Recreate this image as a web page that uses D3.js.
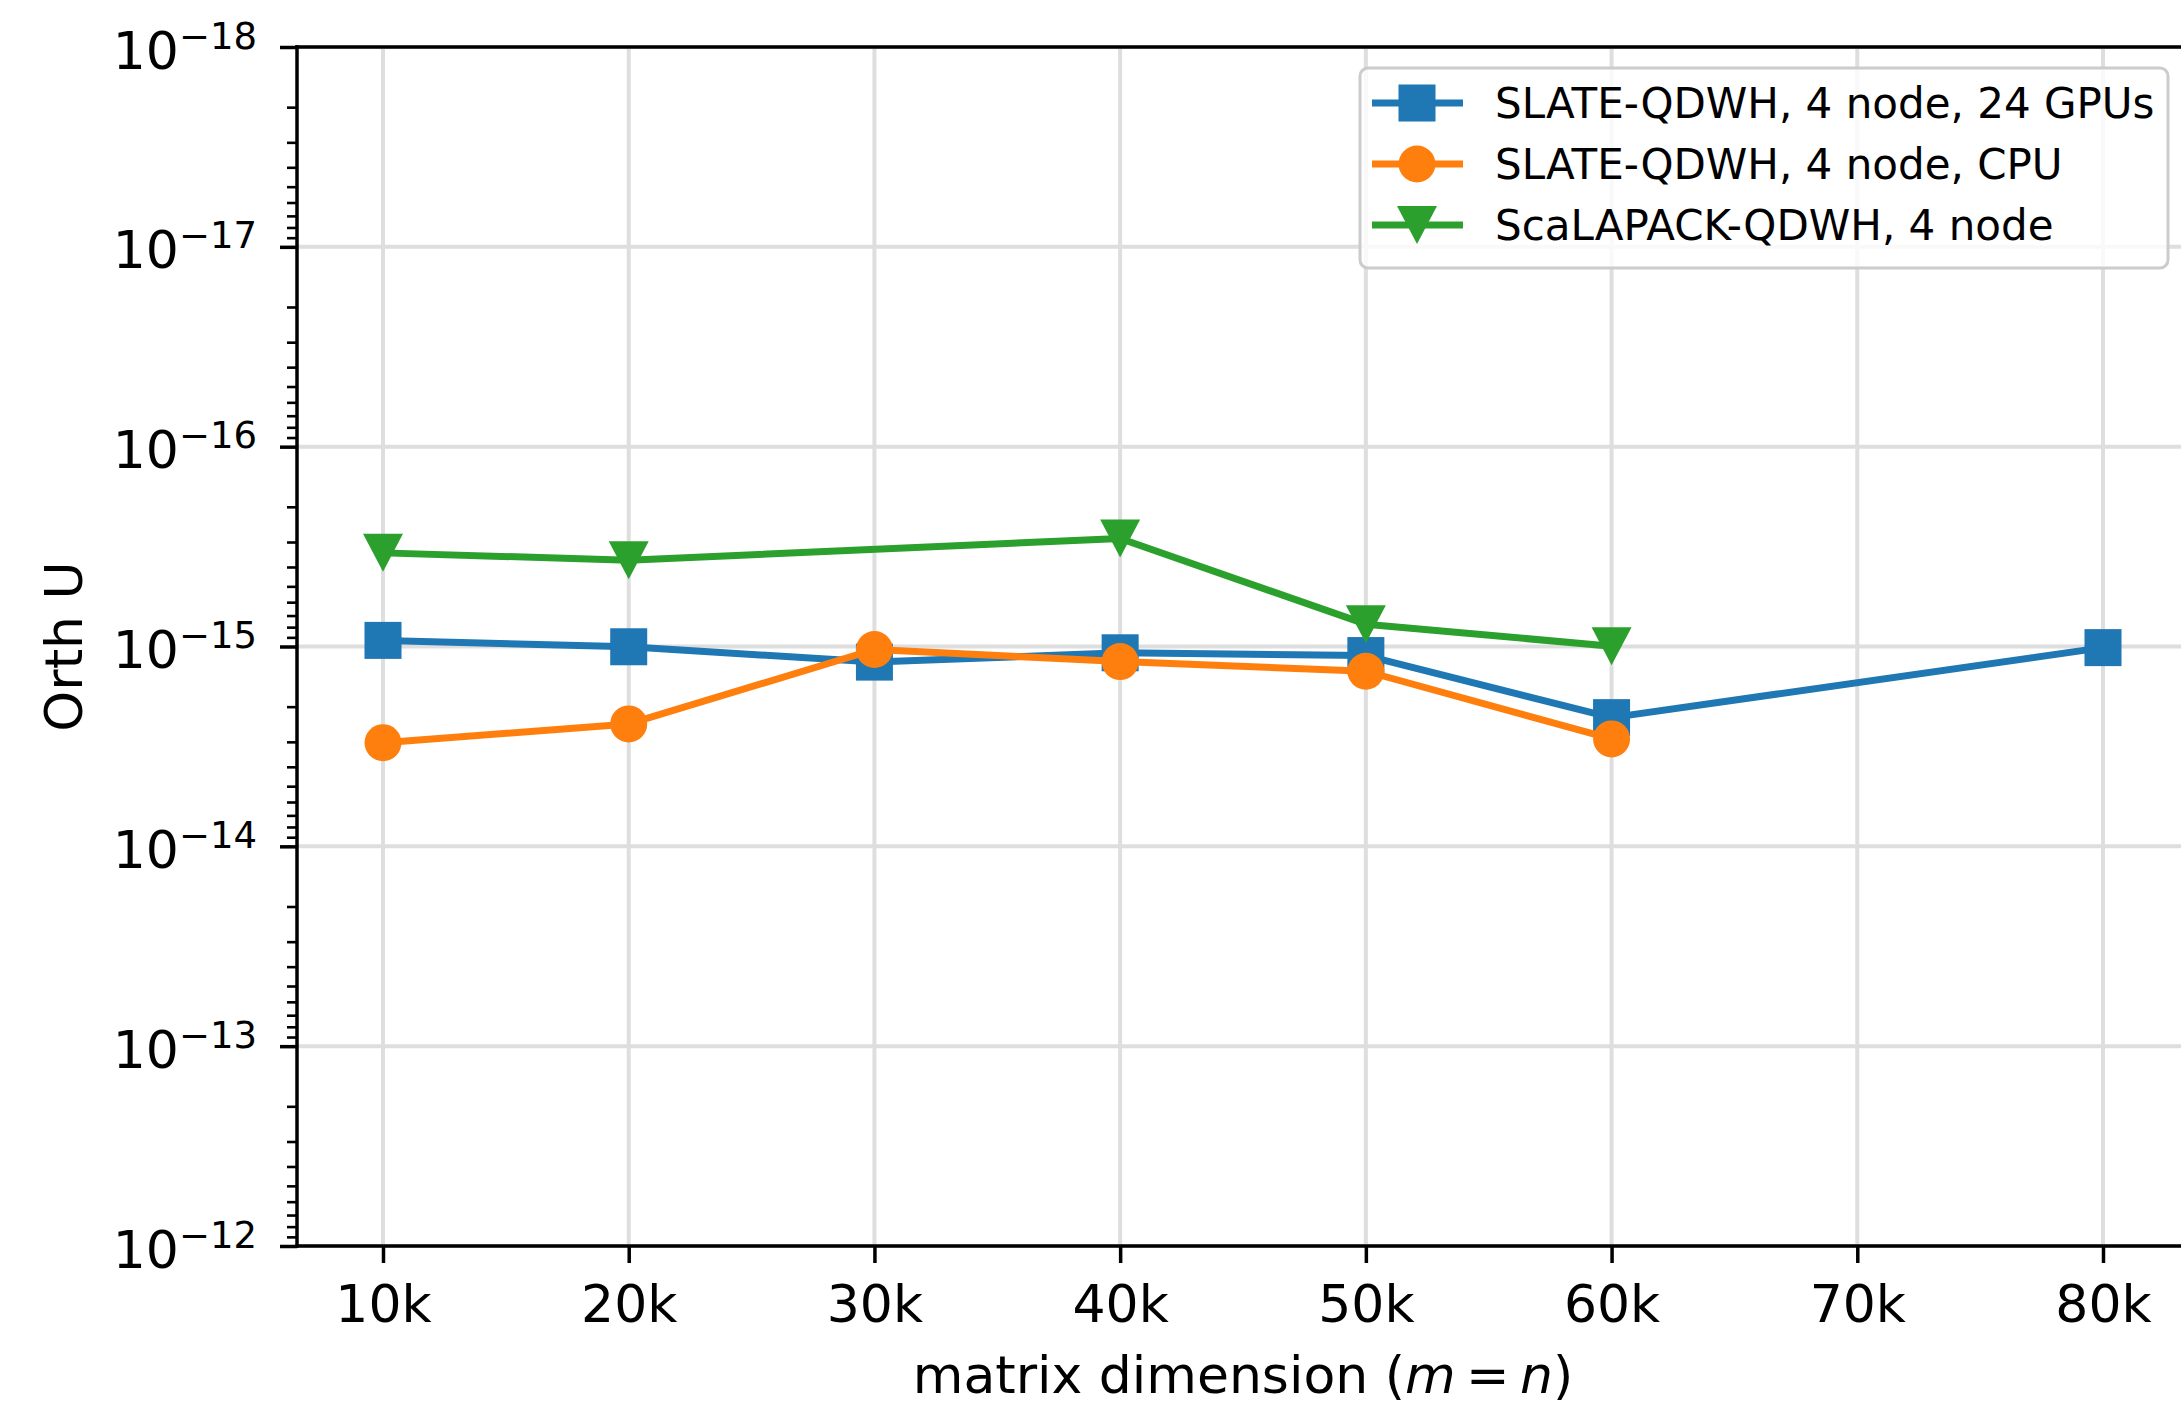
<!DOCTYPE html>
<html>
<head>
<meta charset="utf-8">
<script src="https://cdn.jsdelivr.net/npm/d3@7"></script>
<style>
html,body{margin:0;padding:0;background:#fff;}
svg{display:block;}
text{font-family:"DejaVu Sans",sans-serif;fill:#000;}
</style>
</head>
<body>
<svg id="chart" width="2181" height="1404"></svg>
<script>
// ---- data ----
const tickValues = [10000, 20000, 30000, 40000, 50000, 60000, 70000, 80000];
const tickLabels = ["10k", "20k", "30k", "40k", "50k", "60k", "70k", "80k"];
const seriesNames = ["SLATE-QDWH, 4 node, 24 GPUs", "SLATE-QDWH, 4 node, CPU", "ScaLAPACK-QDWH, 4 node"];
const seriesColors = ["#1f77b4", "#ff7f0e", "#2ca02c"];
const seriesMarkers = ["square", "circle", "triangleDown"];
const gpuX = [10000, 20000, 30000, 40000, 50000, 60000, 80000];
const gpuY = [9.32e-16, 1.003e-15, 1.197e-15, 1.075e-15, 1.11e-15, 2.27e-15, 1.013e-15];
const cpuX = [10000, 20000, 30000, 40000, 50000, 60000];
const cpuY = [3.03e-15, 2.44e-15, 1.035e-15, 1.19e-15, 1.33e-15, 2.90e-15];
const scaX = [10000, 20000, 40000, 50000, 60000];
const scaY = [3.40e-16, 3.70e-16, 2.88e-16, 7.73e-16, 9.97e-16];
const yMajorExp = [-18, -17, -16, -15, -14, -13, -12];

const series = [
  {x: gpuX, y: gpuY}, {x: cpuX, y: cpuY}, {x: scaX, y: scaY}
].map((s, i) => ({name: seriesNames[i], color: seriesColors[i], marker: seriesMarkers[i],
  pts: s.x.map((v, j) => ({x: v, y: s.y[j]}))}));

// ---- layout ----
const L = 297, R = 2189, T = 47, B = 1246;
const svg = d3.select("#chart");
const x = d3.scaleLinear().domain([6500, 83500]).range([L, R]);
const y = d3.scaleLog().domain([1e-18, 1e-12]).range([T, B]);

const majorVals = yMajorExp.map(e => Math.pow(10, e));
const minorVals = [];
for (let e = -18; e < -12; e++) for (let k = 2; k <= 9; k++) minorVals.push(k * Math.pow(10, e));

const gridColor = "#dedede";
// grid
const grid = svg.append("g");
grid.selectAll("line.v").data(tickValues).join("line")
  .attr("x1", d => x(d)).attr("x2", d => x(d)).attr("y1", T).attr("y2", B)
  .attr("stroke", gridColor).attr("stroke-width", 4);
grid.selectAll("line.h").data(majorVals).join("line")
  .attr("x1", L).attr("x2", R).attr("y1", d => y(d)).attr("y2", d => y(d))
  .attr("stroke", gridColor).attr("stroke-width", 4);

// clip
svg.append("clipPath").attr("id", "clip").append("rect")
  .attr("x", L).attr("y", T).attr("width", R - L).attr("height", B - T);

// series
const line = d3.line().x(d => x(d.x)).y(d => y(d.y));
function drawMarker(g, type, cx, cy, color, scale) {
  const s = scale || 1;
  if (type === "square") {
    const h = 18.5 * s;
    g.append("rect").attr("x", cx - h).attr("y", cy - h).attr("width", 2 * h).attr("height", 2 * h).attr("fill", color);
  } else if (type === "circle") {
    g.append("circle").attr("cx", cx).attr("cy", cy).attr("r", 18.5 * s).attr("fill", color);
  } else {
    const w = 20 * s, h = 19 * s;
    g.append("path").attr("d", `M${cx - w},${cy - h}L${cx + w},${cy - h}L${cx},${cy + h}Z`).attr("fill", color);
  }
}
const dataG = svg.append("g").attr("clip-path", "url(#clip)");
series.forEach(s => {
  const g = dataG.append("g");
  g.append("path").datum(s.pts).attr("d", line).attr("fill", "none")
    .attr("stroke", s.color).attr("stroke-width", 7).attr("stroke-linejoin", "round");
  s.pts.forEach(p => drawMarker(g, s.marker, x(p.x), y(p.y), s.color));
});

// axes
const xAxis = d3.axisBottom(x).tickValues(tickValues).tickFormat((d, i) => tickLabels[i]).tickSize(17).tickPadding(8);
const gx = svg.append("g").attr("transform", `translate(0,${B})`).call(xAxis);
gx.select(".domain").remove();
gx.selectAll(".tick line").attr("stroke", "#000").attr("stroke-width", 3.5);
gx.selectAll(".tick text").attr("font-size", 52).attr("dy", null).attr("y", 76)
  .attr("font-family", "DejaVu Sans").attr("fill", "#000");

const yMinor = d3.axisLeft(y).tickValues(minorVals).tickFormat("").tickSize(10);
const gym = svg.append("g").attr("transform", `translate(${L},0)`).call(yMinor);
gym.select(".domain").remove();
gym.selectAll(".tick line").attr("stroke", "#000").attr("stroke-width", 2.6);

const yMajor = d3.axisLeft(y).tickValues(majorVals).tickFormat("").tickSize(17);
const gy = svg.append("g").attr("transform", `translate(${L},0)`).call(yMajor);
gy.select(".domain").remove();
gy.selectAll(".tick line").attr("stroke", "#000").attr("stroke-width", 3.5);
gy.selectAll(".tick").each(function(d, i) {
  const t = d3.select(this).select("text").text(null)
    .attr("x", -40).attr("y", 21).attr("dy", null).attr("text-anchor", "end")
    .attr("font-family", "DejaVu Sans").attr("fill", "#000");
  t.append("tspan").attr("font-size", 52).text("10");
  t.append("tspan").attr("font-size", 37).attr("dx", 0).attr("dy", -20).text("\u2212" + Math.abs(yMajorExp[i]));
});

// spines
const spines = svg.append("g").attr("stroke", "#000").attr("stroke-width", 3.5).attr("stroke-linecap", "square");
spines.append("line").attr("x1", L).attr("x2", L).attr("y1", T).attr("y2", B);
spines.append("line").attr("x1", L).attr("x2", R).attr("y1", B).attr("y2", B);
spines.append("line").attr("x1", L).attr("x2", R).attr("y1", T).attr("y2", T);
spines.append("line").attr("x1", R).attr("x2", R).attr("y1", T).attr("y2", B);

// axis labels
svg.append("text").attr("transform", `translate(82,${(T + B) / 2}) rotate(-90)`)
  .attr("text-anchor", "middle").attr("font-size", 52).text("Orth U");
const xl = svg.append("text").attr("x", (L + R) / 2).attr("y", 1393).attr("text-anchor", "middle").attr("font-size", 52);
xl.append("tspan").text("matrix dimension (");
xl.append("tspan").attr("font-style", "italic").text("m");
xl.append("tspan").text("\u2009=\u2009");
xl.append("tspan").attr("font-style", "italic").text("n");
xl.append("tspan").text(")");

// legend
const lg = svg.append("g");
lg.append("rect").attr("x", 1360).attr("y", 68).attr("width", 808).attr("height", 200)
  .attr("rx", 8).attr("fill", "#fff").attr("fill-opacity", 0.8)
  .attr("stroke", "#cccccc").attr("stroke-width", 3);
series.forEach((s, i) => {
  const cy = 103 + i * 61;
  lg.append("line").attr("x1", 1372).attr("x2", 1463).attr("y1", cy).attr("y2", cy)
    .attr("stroke", s.color).attr("stroke-width", 7);
  drawMarker(lg, s.marker, 1417, cy, s.color);
  lg.append("text").attr("x", 1495).attr("y", cy + 15).attr("font-size", 42).text(s.name);
});
</script>
</body>
</html>
